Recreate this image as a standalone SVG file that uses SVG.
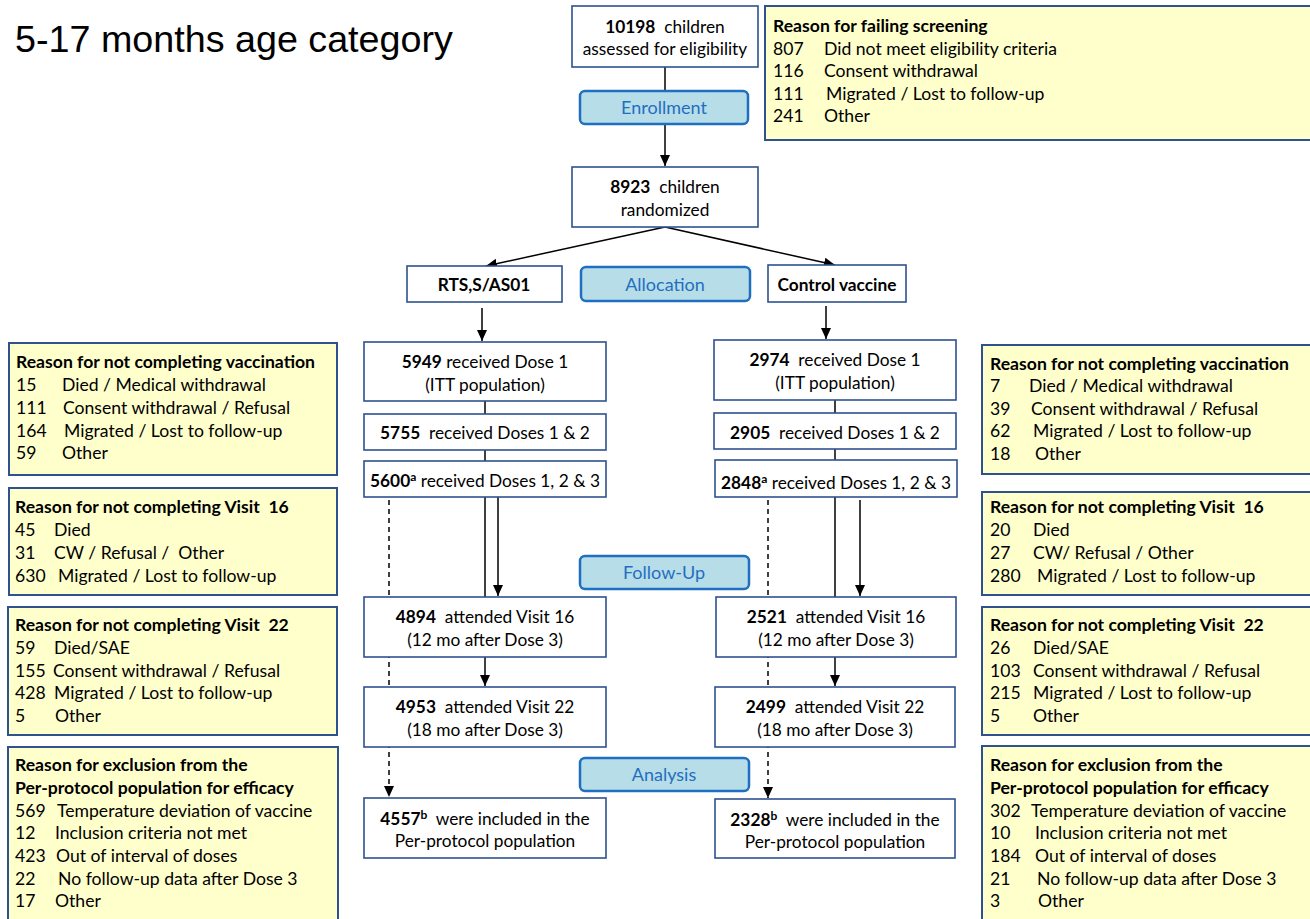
<svg xmlns="http://www.w3.org/2000/svg" width="1310" height="919" viewBox="0 0 1310 919">
<defs>
<marker id="ah" markerWidth="11" markerHeight="10" refX="11" refY="5" orient="auto" markerUnits="userSpaceOnUse">
<path d="M0,0 L11,5 L0,10 z" fill="#000"/>
</marker>
<style>
text{white-space:pre}
.node{fill:#fff;stroke:#2f528f;stroke-width:1.6}
.phase{fill:#b7dde8;stroke:#1f6fc0;stroke-width:2.5}
.pt{font-family:Lato,"Liberation Sans",sans-serif;font-size:18px;fill:#1f6fc0;text-anchor:middle}
.t{font-family:Lato,"Liberation Sans",sans-serif;font-size:17.3px;fill:#000;text-anchor:middle}
.b{font-weight:bold}
.note{fill:#ffffcc;stroke:#2f528f;stroke-width:2}
.n{font-family:Lato,"Liberation Sans",sans-serif;font-size:17.6px;fill:#000}
.ln{stroke:#000;stroke-width:1.5;fill:none}
.ar{marker-end:url(#ah)}
.dash{stroke-dasharray:5,4}
.sup{font-size:12px}
</style>
</defs>
<rect width="1310" height="919" fill="#fff"/>
<text x="15" y="52" font-family="'Liberation Sans',Arial,sans-serif" font-size="37.7" fill="#000">5-17 months age category</text>
<g id="connectors">
<line class="ln" x1="665" y1="67" x2="665" y2="91"/>
<line class="ln ar" x1="665" y1="124" x2="665" y2="166"/>
<line class="ln ar" x1="665" y1="227" x2="486" y2="266"/>
<line class="ln ar" x1="665" y1="227" x2="835" y2="265"/>
<line class="ln ar" x1="482" y1="308" x2="482" y2="341"/>
<line class="ln ar" x1="826" y1="306" x2="826" y2="339"/>
<line class="ln" x1="485" y1="401" x2="485" y2="414"/>
<line class="ln" x1="485" y1="450" x2="485" y2="461"/>
<line class="ln" x1="835" y1="400" x2="835" y2="413"/>
<line class="ln" x1="835" y1="449" x2="835" y2="460"/>
<line class="ln" x1="485" y1="497" x2="485" y2="597"/>
<line class="ln ar" x1="498" y1="497" x2="498" y2="596"/>
<line class="ln dash ar" x1="389" y1="500" x2="389" y2="797"/>
<line class="ln" x1="835" y1="497" x2="835" y2="597"/>
<line class="ln ar" x1="860" y1="500" x2="860" y2="596"/>
<line class="ln dash ar" x1="768" y1="500" x2="768" y2="798"/>
<line class="ln ar" x1="485" y1="657" x2="485" y2="686"/>
<line class="ln ar" x1="835" y1="657" x2="835" y2="686"/>
</g>
<g id="assessed">
<rect class="node" x="572" y="6" width="186" height="61"/>
<text class="t" x="665" y="33"><tspan class="b">10198</tspan>  children</text>
<text class="t" x="665" y="55">assessed for eligibility</text>
</g>
<g id="screening">
<rect class="note" x="765" y="6" width="550" height="134"/>
<text class="n b" x="773" y="32">Reason for failing screening</text>
<text class="n" x="773" y="55">807</text><text class="n" x="824" y="55">Did not meet eligibility criteria</text>
<text class="n" x="773" y="77">116</text><text class="n" x="824" y="77">Consent withdrawal</text>
<text class="n" x="773" y="100">111</text><text class="n" x="826" y="100">Migrated / Lost to follow-up</text>
<text class="n" x="773" y="122">241</text><text class="n" x="824" y="122">Other</text>
</g>
<g id="enrollment">
<rect class="phase" x="580" y="91" width="168" height="33" rx="5"/>
<text class="pt" x="664" y="114">Enrollment</text>
</g>
<g id="randomized">
<rect class="node" x="572" y="167" width="186" height="60"/>
<text class="t" x="665" y="193"><tspan class="b">8923</tspan>  children</text>
<text class="t" x="665" y="216">randomized</text>
</g>
<g id="rts">
<rect class="node" x="407" y="266" width="155" height="36"/>
<text class="t b" x="484" y="291">RTS,S/AS01</text>
</g>
<g id="allocation">
<rect class="phase" x="581" y="267" width="169" height="34" rx="5"/>
<text class="pt" x="665" y="291">Allocation</text>
</g>
<g id="control">
<rect class="node" x="768" y="265" width="138" height="37"/>
<text class="t b" x="837" y="291">Control vaccine</text>
</g>
<g id="l-dose1">
<rect class="node" x="364" y="342" width="242" height="59"/>
<text class="t" x="485" y="368"><tspan class="b">5949</tspan> received Dose 1</text>
<text class="t" x="485" y="391">(ITT population)</text>
</g>
<g id="l-dose12">
<rect class="node" x="364" y="414" width="242" height="36"/>
<text class="t" x="485" y="439"><tspan class="b">5755</tspan>  received Doses 1 &amp; 2</text>
</g>
<g id="l-dose123">
<rect class="node" x="364" y="461" width="242" height="36"/>
<text class="t" x="485" y="487"><tspan class="b">5600<tspan class="sup" dy="-6">a</tspan></tspan><tspan dy="6"> received Doses 1, 2 &amp; 3</tspan></text>
</g>
<g id="r-dose1">
<rect class="node" x="714" y="340" width="242" height="60"/>
<text class="t" x="835" y="366"><tspan class="b">2974</tspan>  received Dose 1</text>
<text class="t" x="835" y="389">(ITT population)</text>
</g>
<g id="r-dose12">
<rect class="node" x="714" y="413" width="242" height="36"/>
<text class="t" x="835" y="439"><tspan class="b">2905</tspan>  received Doses 1 &amp; 2</text>
</g>
<g id="r-dose123">
<rect class="node" x="715" y="460" width="242" height="37"/>
<text class="t" x="836" y="489"><tspan class="b">2848<tspan class="sup" dy="-6">a</tspan></tspan><tspan dy="6"> received Doses 1, 2 &amp; 3</tspan></text>
</g>
<g id="followup">
<rect class="phase" x="580" y="556" width="169" height="33" rx="5"/>
<text class="pt" x="664" y="579">Follow-Up</text>
</g>
<g id="l-v16">
<rect class="node" x="364" y="597" width="242" height="60"/>
<text class="t" x="485" y="623"><tspan class="b">4894</tspan>  attended Visit 16</text>
<text class="t" x="485" y="646">(12 mo after Dose 3)</text>
</g>
<g id="l-v22">
<rect class="node" x="364" y="687" width="242" height="60"/>
<text class="t" x="485" y="713"><tspan class="b">4953</tspan>  attended Visit 22</text>
<text class="t" x="485" y="736">(18 mo after Dose 3)</text>
</g>
<g id="l-pp">
<rect class="node" x="364" y="798" width="242" height="60"/>
<text class="t" x="485" y="825"><tspan class="b">4557<tspan class="sup" dy="-6">b</tspan></tspan><tspan dy="6">  were included in the</tspan></text>
<text class="t" x="485" y="847">Per-protocol population</text>
</g>
<g id="r-v16">
<rect class="node" x="716" y="597" width="240" height="60"/>
<text class="t" x="836" y="623"><tspan class="b">2521</tspan>  attended Visit 16</text>
<text class="t" x="836" y="646">(12 mo after Dose 3)</text>
</g>
<g id="r-v22">
<rect class="node" x="715" y="687" width="240" height="60"/>
<text class="t" x="835" y="713"><tspan class="b">2499</tspan>  attended Visit 22</text>
<text class="t" x="835" y="736">(18 mo after Dose 3)</text>
</g>
<g id="r-pp">
<rect class="node" x="715" y="799" width="240" height="59"/>
<text class="t" x="835" y="826"><tspan class="b">2328<tspan class="sup" dy="-6">b</tspan></tspan><tspan dy="6">  were included in the</tspan></text>
<text class="t" x="835" y="848">Per-protocol population</text>
</g>
<g id="analysis">
<rect class="phase" x="580" y="758" width="169" height="33" rx="5"/>
<text class="pt" x="664" y="781">Analysis</text>
</g>
<g id="l-vacc-reasons">
<rect class="note" x="9" y="343" width="328" height="132"/>
<text class="n b" x="16" y="368">Reason for not completing vaccination</text>
<text class="n" x="16" y="391">15</text><text class="n" x="62" y="391">Died / Medical withdrawal</text>
<text class="n" x="16" y="414">111</text><text class="n" x="63" y="414">Consent withdrawal / Refusal</text>
<text class="n" x="16" y="437">164</text><text class="n" x="64" y="437">Migrated / Lost to follow-up</text>
<text class="n" x="16" y="459">59</text><text class="n" x="62" y="459">Other</text>
</g>
<g id="l-v16-reasons">
<rect class="note" x="9" y="488" width="328" height="107"/>
<text class="n b" x="15" y="513">Reason for not completing Visit  16</text>
<text class="n" x="15" y="536">45</text><text class="n" x="54" y="536">Died</text>
<text class="n" x="15" y="559">31</text><text class="n" x="54" y="559">CW / Refusal /  Other</text>
<text class="n" x="15" y="582">630</text><text class="n" x="58" y="582">Migrated / Lost to follow-up</text>
</g>
<g id="l-v22-reasons">
<rect class="note" x="8" y="607" width="329" height="128"/>
<text class="n b" x="15" y="631">Reason for not completing Visit  22</text>
<text class="n" x="15" y="654">59</text><text class="n" x="54" y="654">Died/SAE</text>
<text class="n" x="15" y="677">155</text><text class="n" x="53" y="677">Consent withdrawal / Refusal</text>
<text class="n" x="15" y="699">428</text><text class="n" x="54" y="699">Migrated / Lost to follow-up</text>
<text class="n" x="15" y="722">5</text><text class="n" x="55" y="722">Other</text>
</g>
<g id="l-pp-reasons">
<rect class="note" x="8" y="747" width="330" height="185"/>
<text class="n b" x="15" y="771">Reason for exclusion from the</text>
<text class="n b" x="15" y="794">Per-protocol population for efficacy</text>
<text class="n" x="15" y="817">569</text><text class="n" x="57" y="817">Temperature deviation of vaccine</text>
<text class="n" x="15" y="839">12</text><text class="n" x="55" y="839">Inclusion criteria not met</text>
<text class="n" x="15" y="862">423</text><text class="n" x="56" y="862">Out of interval of doses</text>
<text class="n" x="15" y="885">22</text><text class="n" x="58" y="885">No follow-up data after Dose 3</text>
<text class="n" x="15" y="907">17</text><text class="n" x="55" y="907">Other</text>
</g>
<g id="r-vacc-reasons">
<rect class="note" x="982" y="345" width="335" height="129"/>
<text class="n b" x="990" y="370">Reason for not completing vaccination</text>
<text class="n" x="990" y="392">7</text><text class="n" x="1029" y="392">Died / Medical withdrawal</text>
<text class="n" x="990" y="415">39</text><text class="n" x="1031" y="415">Consent withdrawal / Refusal</text>
<text class="n" x="990" y="437">62</text><text class="n" x="1033" y="437">Migrated / Lost to follow-up</text>
<text class="n" x="990" y="460">18</text><text class="n" x="1035" y="460">Other</text>
</g>
<g id="r-v16-reasons">
<rect class="note" x="982" y="492" width="335" height="103"/>
<text class="n b" x="990" y="513">Reason for not completing Visit  16</text>
<text class="n" x="990" y="536">20</text><text class="n" x="1033" y="536">Died</text>
<text class="n" x="990" y="559">27</text><text class="n" x="1033" y="559">CW/ Refusal / Other</text>
<text class="n" x="990" y="582">280</text><text class="n" x="1037" y="582">Migrated / Lost to follow-up</text>
</g>
<g id="r-v22-reasons">
<rect class="note" x="982" y="607" width="335" height="128"/>
<text class="n b" x="990" y="631">Reason for not completing Visit  22</text>
<text class="n" x="990" y="654">26</text><text class="n" x="1033" y="654">Died/SAE</text>
<text class="n" x="990" y="677">103</text><text class="n" x="1033" y="677">Consent withdrawal / Refusal</text>
<text class="n" x="990" y="699">215</text><text class="n" x="1033" y="699">Migrated / Lost to follow-up</text>
<text class="n" x="990" y="722">5</text><text class="n" x="1033" y="722">Other</text>
</g>
<g id="r-pp-reasons">
<rect class="note" x="982" y="746" width="335" height="186"/>
<text class="n b" x="990" y="771">Reason for exclusion from the</text>
<text class="n b" x="990" y="794">Per-protocol population for efficacy</text>
<text class="n" x="990" y="817">302</text><text class="n" x="1031" y="817">Temperature deviation of vaccine</text>
<text class="n" x="990" y="839">10</text><text class="n" x="1035" y="839">Inclusion criteria not met</text>
<text class="n" x="990" y="862">184</text><text class="n" x="1035" y="862">Out of interval of doses</text>
<text class="n" x="990" y="885">21</text><text class="n" x="1037" y="885">No follow-up data after Dose 3</text>
<text class="n" x="990" y="907">3</text><text class="n" x="1038" y="907">Other</text>
</g>
</svg>
